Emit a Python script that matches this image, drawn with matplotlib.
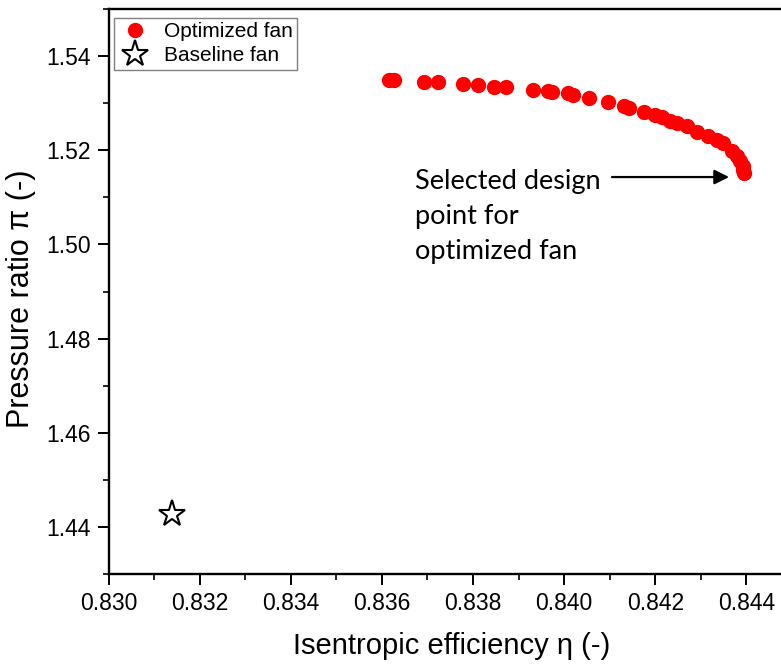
import matplotlib
matplotlib.use('Agg')
import matplotlib.pyplot as plt
from matplotlib.ticker import MultipleLocator, FormatStrFormatter

# Pareto front of the optimized fan (isentropic efficiency vs pressure ratio)
eff_opt = [0.83616, 0.83626, 0.83693, 0.83724, 0.83778, 0.83811, 0.83847, 0.83872,
           0.83932, 0.83964, 0.83974, 0.84008, 0.84019, 0.84055, 0.84097, 0.84132,
           0.84142, 0.84175, 0.84199, 0.84214, 0.84232, 0.84248, 0.84269, 0.84292,
           0.84316, 0.84335, 0.84348, 0.84368, 0.84379, 0.84386, 0.84392, 0.84393,
           0.84395]
pr_opt = [1.53497, 1.53497, 1.53454, 1.53442, 1.53406, 1.53384, 1.53348, 1.53335,
          1.53278, 1.53251, 1.53236, 1.53221, 1.53178, 1.53108, 1.53030, 1.52932,
          1.52890, 1.52811, 1.52747, 1.52699, 1.52626, 1.52571, 1.52507, 1.52393,
          1.52295, 1.52217, 1.52146, 1.51989, 1.51883, 1.51777, 1.51671, 1.51586,
          1.51510]

# Baseline fan
eff_base = [0.83140]
pr_base = [1.4428]

plt.rcParams['font.family'] = ['Liberation Sans', 'DejaVu Sans']

W, H = 781, 668
fig = plt.figure(figsize=(W / 100, H / 100), dpi=100)
left, right, top, bottom = 108.5, 781, 9, 574
ax = fig.add_axes([left / W, 1 - bottom / H, (right - left) / W, (bottom - top) / H])

ax.plot(eff_opt, pr_opt, linestyle='none', marker='o', markersize=10,
        color='#ff0000', label='Optimized fan', zorder=3)
ax.plot(eff_base, pr_base, linestyle='none', marker='*', markersize=20,
        markerfacecolor='white', markeredgecolor='black', markeredgewidth=1.5,
        label='Baseline fan', zorder=3)

ax.set_xlim(0.830, 0.84476)
ax.set_ylim(1.43, 1.55)

ax.xaxis.set_major_locator(MultipleLocator(0.002))
ax.xaxis.set_minor_locator(MultipleLocator(0.001))
ax.yaxis.set_major_locator(MultipleLocator(0.02))
ax.yaxis.set_minor_locator(MultipleLocator(0.01))
ax.xaxis.set_major_formatter(FormatStrFormatter('%.3f'))
ax.yaxis.set_major_formatter(FormatStrFormatter('%.2f'))

ax.tick_params(which='major', direction='out', length=8, width=1.4, labelsize=16.5)
ax.tick_params(which='minor', direction='out', length=4.3, width=1.2)
ax.tick_params(axis='x', which='major', pad=5)
ax.tick_params(axis='y', which='major', pad=5)

for side in ['left', 'bottom', 'top']:
    ax.spines[side].set_linewidth(1.7)
ax.spines['right'].set_visible(False)

ax.set_xlabel('Isentropic efficiency η (-)', fontsize=21)
ax.set_ylabel('Pressure ratio π (-)', fontsize=22)
ax.xaxis.set_label_coords(0.51, -0.103)
ax.yaxis.set_label_coords(-0.108, 0.487)

leg = ax.legend(loc='upper left', bbox_to_anchor=(0.008, 0.984), borderaxespad=0,
                fontsize=15, frameon=True, fancybox=False, framealpha=1,
                edgecolor='#808080', handletextpad=0.6, labelspacing=0.25,
                borderpad=0.2, handlelength=1.6)
leg.get_frame().set_linewidth(1.0)

# annotation for the selected design point
ax.text(0.83672, 1.5160, 'Selected design\npoint for\noptimized fan',
        family=['Lato', 'DejaVu Sans'], fontsize=19.5, va='top', ha='left',
        linespacing=1.5)
ax.annotate('', xy=(0.84362, 1.51431), xytext=(0.84105, 1.51431),
            arrowprops=dict(arrowstyle='-|>', color='black', lw=1.6,
                            mutation_scale=22, shrinkA=0, shrinkB=0))

fig.savefig('out.png', dpi=100)
